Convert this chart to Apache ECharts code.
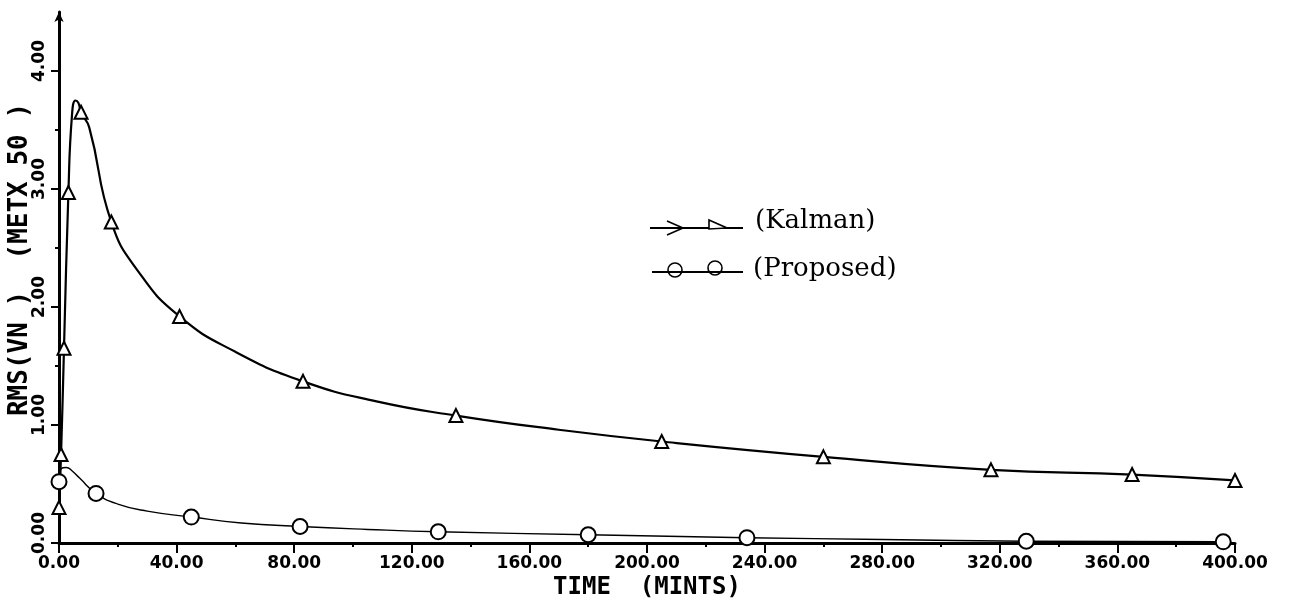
<!DOCTYPE html>
<html>
<head>
<meta charset="utf-8">
<script src="https://cdn.jsdelivr.net/npm/echarts@6/dist/echarts.min.js"></script>
<style>
  html, body { margin: 0; padding: 0; background: #fff; }
  #chart { width: 1316px; height: 606px; }
</style>
</head>
<body>
<div id="chart"></div>
<script>
// Tick labels
const timeTickLabels = ['0.00', '40.00', '80.00', '120.00', '160.00', '200.00', '240.00', '280.00', '320.00', '360.00', '400.00'];
const rmsTickLabels = ['0.00', '1.00', '2.00', '3.00', '4.00'];

// Kalman filter RMS error (x50) vs time in minutes; marked = plotted with a symbol
const kalmanTime   = [0, 0.7, 1.7, 3.2, 4.4, 5.6, 6.6, 7.5, 10.3, 17.8, 27, 41, 60, 83, 108, 135, 170, 205, 260, 317, 365, 400];
const kalmanRms    = [0.30, 0.75, 1.65, 2.97, 3.62, 3.75, 3.73, 3.65, 3.52, 2.72, 2.30, 1.92, 1.62, 1.37, 1.20, 1.08, 0.96, 0.86, 0.73, 0.62, 0.58, 0.53];
const kalmanMarked = [1, 1, 1, 1, 0, 0, 0, 1, 0, 1, 0, 1, 0, 1, 0, 1, 0, 1, 1, 1, 1, 1];

// Proposed estimator RMS error (x50) vs time in minutes
const proposedTime   = [0, 0.8, 2.5, 4.5, 7, 12.6, 20, 30, 45, 62, 82, 105, 129, 180, 234, 280, 329, 396];
const proposedRms    = [0.52, 0.63, 0.64, 0.61, 0.55, 0.42, 0.33, 0.27, 0.22, 0.17, 0.14, 0.115, 0.095, 0.07, 0.045, 0.03, 0.015, 0.01];
const proposedMarked = [1, 0, 0, 0, 0, 1, 0, 0, 1, 0, 1, 0, 1, 1, 1, 0, 1, 1];

function buildPoints(times, values, marked, symbol) {
  return times.map((t, i) => ({ value: [t, values[i]], symbol: marked[i] ? symbol : 'none' }));
}

const plotterFont = '"DejaVu Sans Mono", monospace';
const tickFont = '"DejaVu Sans", sans-serif';
const legendFont = '"DejaVu Serif", serif';

const chart = echarts.init(document.getElementById('chart'), null, { renderer: 'canvas' });

chart.setOption({
  animation: false,
  backgroundColor: '#fff',
  grid: { left: 59, right: 81, top: 12, bottom: 63, containLabel: false, outerBoundsMode: 'none' },
  xAxis: {
    type: 'value',
    min: 0, max: 400, interval: 40,
    name: 'TIME  (MINTS)',
    nameLocation: 'middle',
    nameGap: 33,
    nameMoveOverlap: false,
    nameTextStyle: { fontFamily: plotterFont, fontSize: 24, fontWeight: 'bold', color: '#000', verticalAlign: 'top' },
    axisLine: { show: true, lineStyle: { color: '#000', width: 3 } },
    axisTick: { show: true, length: 10, lineStyle: { color: '#000', width: 2 } },
    minorTick: { show: true, splitNumber: 2, length: 4, lineStyle: { color: '#000', width: 2 } },
    axisLabel: {
      margin: 12,
      fontFamily: tickFont, fontSize: 17, fontWeight: 'bold', color: '#000',
      formatter: v => timeTickLabels[Math.round(v / 40)] || ''
    },
    splitLine: { show: false }
  },
  yAxis: {
    type: 'value',
    min: 0, max: 4.5, interval: 1,
    name: 'RMS(VN )  (METX 50 )',
    nameLocation: 'middle',
    nameRotate: 90,
    nameGap: 26,
    nameMoveOverlap: false,
    nameTextStyle: { fontFamily: plotterFont, fontSize: 26, fontWeight: 'bold', color: '#000', padding: [0, 0, 0, 36] },
    axisLine: { show: true, symbol: ['none', 'arrow'], symbolSize: [7, 10], lineStyle: { color: '#000', width: 3 } },
    axisTick: { show: true, length: 8, customValues: [0, 1, 2, 3, 4], lineStyle: { color: '#000', width: 2 } },
    minorTick: { show: true, splitNumber: 2, length: 4, lineStyle: { color: '#000', width: 2 } },
    axisLabel: {
      margin: 11,
      rotate: 90,
      padding: [0, 0, 0, 20],
      customValues: [0, 1, 2, 3, 4],
      fontFamily: tickFont, fontSize: 17, fontWeight: 'bold', color: '#000',
      formatter: v => rmsTickLabels[Math.round(v)] || ''
    },
    splitLine: { show: false }
  },
  series: [
    {
      name: '(Kalman)',
      type: 'line',
      data: buildPoints(kalmanTime, kalmanRms, kalmanMarked, 'emptyTriangle'),
      smooth: 0.5,
      showSymbol: true,
      showAllSymbol: true,
      symbolSize: 13,
      lineStyle: { color: '#000', width: 2.2 },
      itemStyle: { color: '#000', borderWidth: 1.6 },
      z: 3
    },
    {
      name: '(Proposed)',
      type: 'line',
      data: buildPoints(proposedTime, proposedRms, proposedMarked, 'emptyCircle'),
      smooth: 0.5,
      showSymbol: true,
      showAllSymbol: true,
      symbolSize: 15,
      lineStyle: { color: '#000', width: 1.4 },
      itemStyle: { color: '#000', borderWidth: 1.6 },
      z: 3
    }
  ],
  graphic: [
    // Kalman key: line with two open arrow-heads
    { type: 'line', shape: { x1: 650, y1: 228, x2: 743, y2: 228 }, style: { stroke: '#000', lineWidth: 1.8 } },
    { type: 'polyline', shape: { points: [[667, 221], [683, 228], [667, 235]] }, style: { stroke: '#000', fill: null, lineWidth: 1.6 } },
    { type: 'polygon', shape: { points: [[709, 220], [727, 228], [709, 229]] }, style: { stroke: '#000', fill: '#fff', lineWidth: 1.6 } },
    { type: 'text', left: 755, top: 208, style: { text: '(Kalman)', fontFamily: legendFont, fontSize: 26, fill: '#000' } },
    // Proposed key: line with two open circles
    { type: 'line', shape: { x1: 652, y1: 272, x2: 743, y2: 272 }, style: { stroke: '#000', lineWidth: 1.8 } },
    { type: 'circle', shape: { cx: 675, cy: 270, r: 7 }, style: { stroke: '#000', fill: '#fff', lineWidth: 1.6 } },
    { type: 'circle', shape: { cx: 715, cy: 268, r: 7 }, style: { stroke: '#000', fill: '#fff', lineWidth: 1.6 } },
    { type: 'line', shape: { x1: 652, y1: 272, x2: 743, y2: 272 }, style: { stroke: '#000', lineWidth: 1.8 } },
    { type: 'text', left: 753, top: 256, style: { text: '(Proposed)', fontFamily: legendFont, fontSize: 26, fill: '#000' } }
  ]
});
</script>
</body>
</html>
